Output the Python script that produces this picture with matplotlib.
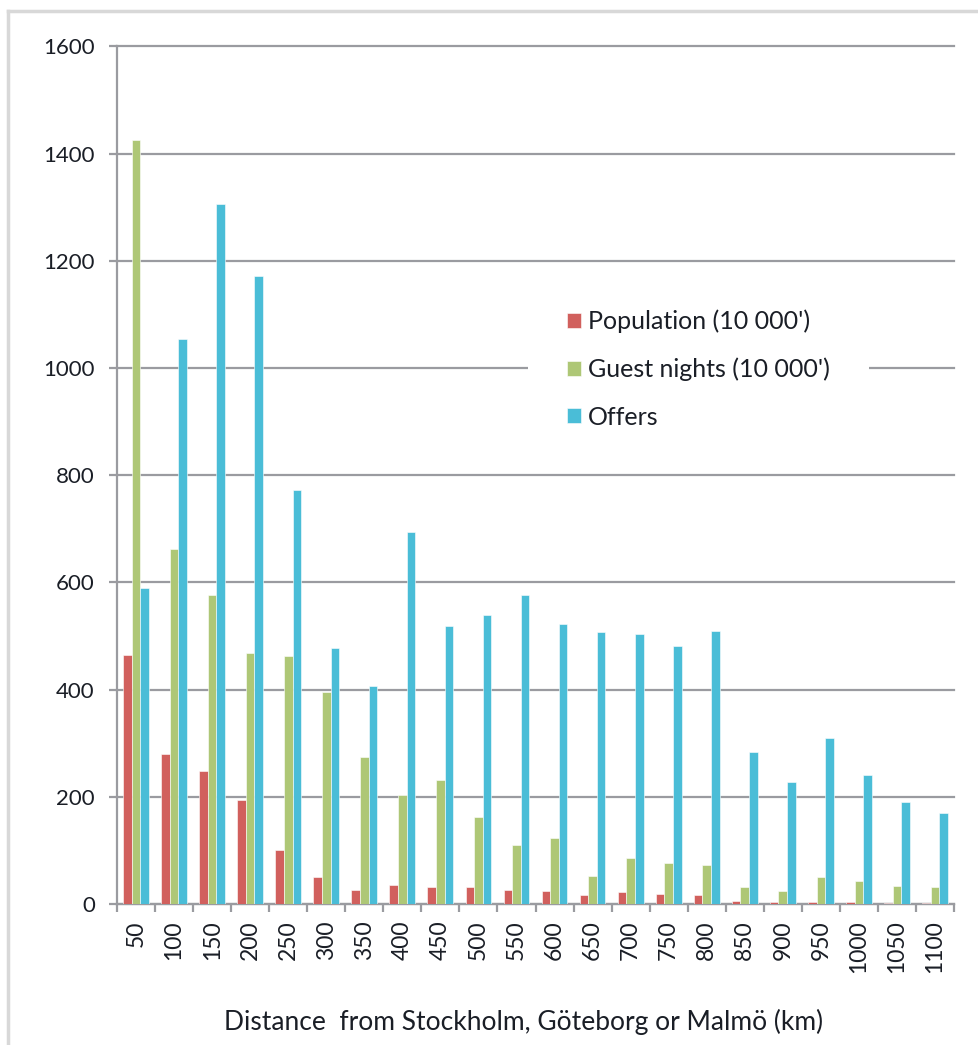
import numpy as np
import matplotlib
matplotlib.use("Agg")
import matplotlib.pyplot as plt
from matplotlib.lines import Line2D

distances = ["50", "100", "150", "200", "250", "300", "350", "400", "450", "500", "550",
             "600", "650", "700", "750", "800", "850", "900", "950", "1000", "1050", "1100"]
population = [464, 280, 248, 194, 100, 51, 27, 35, 32, 32, 27,
              25, 16, 23, 19, 17, 6, 3, 4, 3, 2, 1]
guest_nights = [1426, 662, 576, 469, 462, 396, 275, 204, 232, 163, 111,
                124, 53, 85, 77, 73, 32, 25, 51, 43, 34, 32]
offers = [589, 1055, 1306, 1171, 772, 477, 406, 694, 519, 540, 577,
          523, 507, 503, 482, 510, 283, 227, 310, 241, 190, 169]
y_ticks = [0, 200, 400, 600, 800, 1000, 1200, 1400, 1600]

red = "#D1605D"
green = "#AEC776"
blue = "#4ABDD7"
axis_gray = "#9A9BA0"
text_col = "#1A1E26"

plt.rcParams['font.family'] = ['Lato', 'DejaVu Sans']

fig = plt.figure(figsize=(9.79, 10.45), dpi=100)
ax = fig.add_axes([117/979, 1 - 904/1045, 837/979, 857.5/1045])

x = np.arange(len(distances))
w = 0.226
ax.bar(x - w, population, w, color=red, edgecolor="white", linewidth=0.4, label="Population (10 000')", zorder=3)
ax.bar(x, guest_nights, w, color=green, edgecolor="white", linewidth=0.4, label="Guest nights (10 000')", zorder=3)
ax.bar(x + w, offers, w, color=blue, edgecolor="white", linewidth=0.4, label="Offers", zorder=3)

ax.set_xlim(-0.5, len(distances) - 0.5)
ax.set_ylim(0, 1600)
ax.set_yticks(y_ticks)
ax.set_yticklabels([str(v) for v in y_ticks], fontsize=16, color=text_col)
ax.yaxis.grid(True, color=axis_gray, linewidth=1.6, zorder=0)
ax.set_axisbelow(True)
for gl in ax.get_ygridlines():
    gl.set_clip_on(False)

ax.set_xticks(x)
ax.set_xticklabels(distances, rotation=90, fontsize=16.5, color=text_col)
ax.set_xticks(np.arange(-0.5, len(distances)), minor=True)
ax.tick_params(axis='x', which='major', length=0, pad=12)
ax.tick_params(axis='x', which='minor', length=6, width=1.6, color=axis_gray)
ax.tick_params(axis='y', length=6, width=1.6, color=axis_gray, pad=10)

for side in ['top', 'right']:
    ax.spines[side].set_visible(False)
for side in ['left', 'bottom']:
    ax.spines[side].set_color(axis_gray)
    ax.spines[side].set_linewidth(1.6)

leg = ax.legend(loc='center left', bbox_to_anchor=((528 - 117) / 837, (904 - 369) / 857.5),
                frameon=True, facecolor='white', edgecolor='none', framealpha=1,
                fontsize=18, labelspacing=0.98, handlelength=0.56, handleheight=0.56,
                handletextpad=0.3, borderpad=1.55, borderaxespad=0)
for t in leg.get_texts():
    t.set_color(text_col)

fig.text(523.5/979, 1 - 1022/1045, "Distance  from Stockholm, Göteborg or Malmö (km)",
         ha='center', va='center', fontsize=19, color=text_col)

# light frame around the chart
fig.add_artist(Line2D([8/979, 8/979], [0, 1 - 11/1045], transform=fig.transFigure, color="#D8D8D8", linewidth=2.5))
fig.add_artist(Line2D([8/979, 1], [1 - 11/1045, 1 - 11/1045], transform=fig.transFigure, color="#D8D8D8", linewidth=2.5))

fig.savefig("out.png", dpi=100)
